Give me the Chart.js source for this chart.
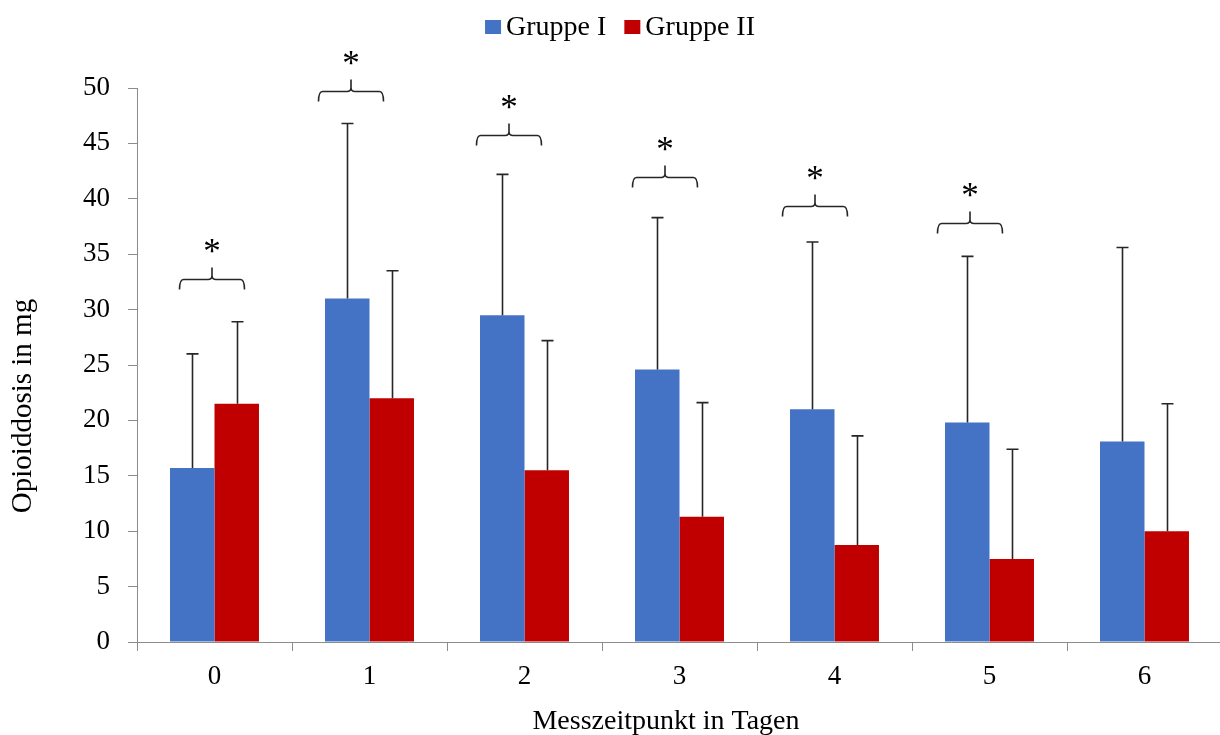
<!DOCTYPE html>
<html lang="de">
<head>
<meta charset="utf-8">
<title>Opioiddosis je Messzeitpunkt</title>
<script src="https://cdn.jsdelivr.net/npm/chart.js@4/dist/chart.umd.min.js"></script>
<style>
  html, body { margin: 0; padding: 0; background: #ffffff; overflow: hidden; }
  #wrap { width: 1222px; height: 735px; }
</style>
</head>
<body>
<div id="wrap"><canvas id="chart" width="1222" height="735"></canvas></div>
<script>
// Messzeitpunkte (Tage)
const days = ['0', '1', '2', '3', '4', '5', '6'];

// Mittelwerte der Opioiddosis in mg
const gruppe1Mean = [15.7, 31.0, 29.5, 24.6, 21.0, 19.8, 18.1];
const gruppe2Mean = [21.5, 22.0, 15.5, 11.3, 8.75, 7.5, 10.0];

// Standardabweichungen (nur nach oben dargestellt)
const gruppe1SD = [10.3, 15.8, 12.7, 13.7, 15.1, 15.0, 17.5];
const gruppe2SD = [7.4, 11.5, 11.7, 10.3, 9.85, 9.9, 11.5];

// Höhe der Signifikanzklammern (mg), null = kein signifikanter Unterschied
const sigLevel = [32.8, 49.7, 45.8, 42.0, 39.35, 37.8, null];

// Y-Achse
const yMin = 0, yMax = 50, yStep = 5;

const serif = '"Liberation Serif", "Times New Roman", serif';
const axisGrey = '#8c8c8c';
const inkColor = '#262626';

// Fehlerbalken (Mittelwert + SD) mit Querstrich
const errorBars = {
  id: 'errorBars',
  afterDatasetsDraw(chart, args, opts) {
    const ctx = chart.ctx;
    const y = chart.scales.y;
    ctx.save();
    ctx.strokeStyle = opts.color;
    ctx.lineWidth = opts.lineWidth;
    chart.data.datasets.forEach((ds, i) => {
      const meta = chart.getDatasetMeta(i);
      meta.data.forEach((bar, j) => {
        const top = y.getPixelForValue(ds.data[j] + ds.sd[j]);
        const x = Math.round(bar.x) + 0.5;
        ctx.beginPath();
        ctx.moveTo(x, bar.y);
        ctx.lineTo(x, top);
        ctx.moveTo(x - opts.capHalf, top);
        ctx.lineTo(x + opts.capHalf, top);
        ctx.stroke();
      });
    });
    ctx.restore();
  }
};

// Geschweifte Klammern mit Sternchen über den Gruppenpaaren
const sigBrackets = {
  id: 'sigBrackets',
  afterDatasetsDraw(chart, args, opts) {
    const ctx = chart.ctx;
    const xs = chart.scales.x, ys = chart.scales.y;
    ctx.save();
    ctx.strokeStyle = opts.color;
    ctx.fillStyle = '#000000';
    ctx.lineWidth = opts.lineWidth;
    sigLevel.forEach((lvl, j) => {
      if (lvl === null) return;
      const xm = xs.getPixelForValue(j) + opts.shift[j];
      const xl = xm - opts.halfWidth, xr = xm + opts.halfWidth;
      const ly = Math.round(ys.getPixelForValue(lvl)) + 0.5;
      const r = 4;
      ctx.beginPath();
      ctx.moveTo(xl, ly + opts.leg);
      ctx.quadraticCurveTo(xl, ly, xl + r, ly);
      ctx.lineTo(xm - r, ly);
      ctx.quadraticCurveTo(xm, ly, xm, ly - r);
      ctx.lineTo(xm, ly - opts.tip);
      ctx.moveTo(xm, ly - r);
      ctx.quadraticCurveTo(xm, ly, xm + r, ly);
      ctx.lineTo(xr - r, ly);
      ctx.quadraticCurveTo(xr, ly, xr, ly + opts.leg);
      ctx.stroke();
      ctx.font = '35px ' + serif;
      ctx.textAlign = 'center';
      ctx.textBaseline = 'alphabetic';
      ctx.fillText('*', xm, ly - opts.starRise);
    });
    ctx.restore();
  }
};

// Legende oben und Achsentitel
const labelsPlugin = {
  id: 'labelsPlugin',
  afterDraw(chart, args, opts) {
    const ctx = chart.ctx;
    ctx.save();
    ctx.fillStyle = '#000000';
    ctx.font = '28px ' + serif;
    ctx.textBaseline = 'alphabetic';
    ctx.textAlign = 'left';

    // Legende
    const items = chart.data.datasets.map(ds => ({
      text: ds.label, color: ds.backgroundColor, w: ctx.measureText(ds.label).width
    }));
    const box = 16, boxH = 14, gap = 5, itemGap = 18;
    let total = 0;
    items.forEach((it, k) => { total += box + gap + it.w + (k ? itemGap : 0); });
    let x = opts.legendCenter - total / 2;
    items.forEach((it, k) => {
      if (k) x += itemGap;
      ctx.fillStyle = it.color;
      ctx.fillRect(x, opts.legendBaseline - 1 - boxH, box, boxH);
      ctx.fillStyle = '#000000';
      ctx.fillText(it.text, x + box + gap, opts.legendBaseline);
      x += box + gap + it.w;
    });

    // X-Achsentitel
    ctx.textAlign = 'center';
    ctx.fillText('Messzeitpunkt in Tagen', opts.xTitleX, opts.xTitleY);

    // Y-Achsentitel
    ctx.font = '29px ' + serif;
    ctx.translate(opts.yTitleX, opts.yTitleY);
    ctx.rotate(-Math.PI / 2);
    ctx.textBaseline = 'middle';
    ctx.fillText('Opioiddosis in mg', 0, 0);
    ctx.restore();
  }
};

new Chart(document.getElementById('chart'), {
  type: 'bar',
  data: {
    labels: days,
    datasets: [
      { label: 'Gruppe I', data: gruppe1Mean, sd: gruppe1SD, backgroundColor: '#4472C4', borderWidth: 0 },
      { label: 'Gruppe II', data: gruppe2Mean, sd: gruppe2SD, backgroundColor: '#C00000', borderWidth: 0 }
    ]
  },
  options: {
    responsive: false,
    animation: false,
    devicePixelRatio: 1,
    layout: { padding: { top: 88, right: 0, bottom: 0, left: 0 } },
    datasets: { bar: { categoryPercentage: 0.574, barPercentage: 1.0 } },
    plugins: {
      legend: { display: false },
      tooltip: { enabled: false },
      errorBars: { color: inkColor, lineWidth: 1.6, capHalf: 6 },
      sigBrackets: {
        color: inkColor, lineWidth: 1.6, halfWidth: 32.5, leg: 10, tip: 12, starRise: 17,
        shift: [-2.5, -18.5, -15.5, -14.5, -19.5, -19.5, 0]
      },
      labelsPlugin: {
        legendCenter: 620, legendBaseline: 35,
        xTitleX: 666, xTitleY: 729,
        yTitleX: 23, yTitleY: 406
      }
    },
    scales: {
      x: {
        afterFit(scale) { scale.height = 93; },
        border: { display: true, color: axisGrey, width: 1 },
        grid: { display: true, drawOnChartArea: false, drawTicks: true, tickLength: 9, color: axisGrey, offset: true },
        ticks: { color: '#000000', font: { family: serif, size: 27 }, padding: 10, maxRotation: 0 }
      },
      y: {
        min: yMin, max: yMax,
        afterFit(scale) { scale.width = 137; },
        border: { display: true, color: axisGrey, width: 1 },
        grid: { display: true, drawOnChartArea: false, drawTicks: true, tickLength: 9, color: axisGrey },
        ticks: { stepSize: yStep, color: '#000000', font: { family: serif, size: 27 }, padding: 18 }
      }
    }
  },
  plugins: [errorBars, sigBrackets, labelsPlugin]
});
</script>
</body>
</html>
